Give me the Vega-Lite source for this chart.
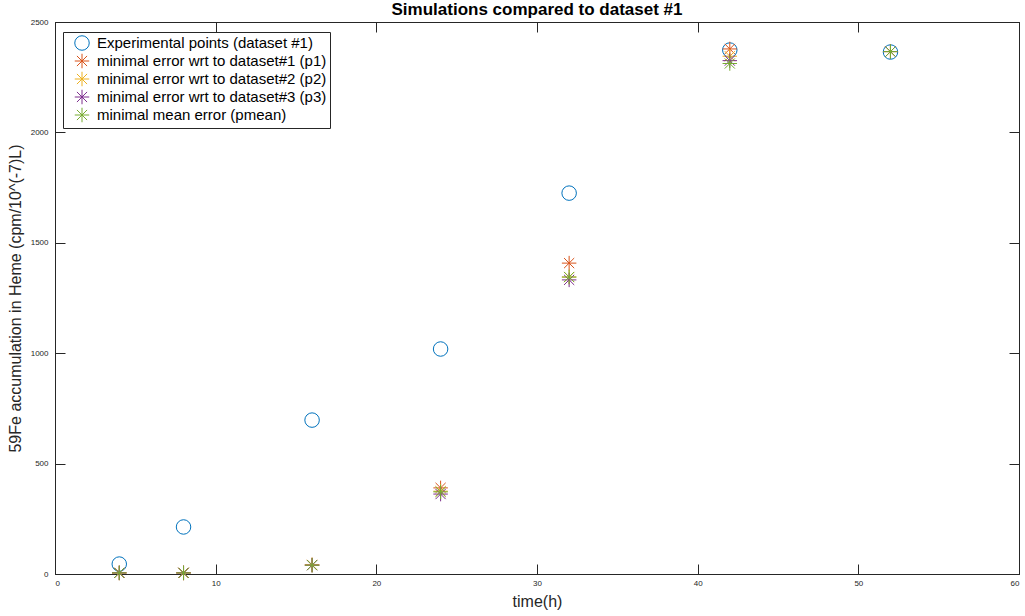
{
  "$schema": "https://vega.github.io/schema/vega-lite/v6.json",
  "autosize": "none",
  "width": 964,
  "height": 552,
  "padding": {"left": 55, "top": 22, "right": 6, "bottom": 42},
  "title": {"text": "Simulations compared to dataset #1", "fontSize": 17, "fontWeight": "bold", "font": "Liberation Sans", "color": "#000000", "offset": -1, "anchor": "middle"},
  "config": {
    "view": {"stroke": "#262626", "strokeWidth": 1},
    "font": "Liberation Sans",
    "axis": {"grid": false, "domainColor": "#262626", "tickColor": "#262626", "labelColor": "#262626", "titleColor": "#262626", "labelFontSize": 8, "titleFontSize": 16, "titleFontWeight": "normal", "tickSize": -10}
  },
  "datasets": {
    "pts": [
      {"time": 4, "value": 45, "series": "Experimental points (dataset #1)"},
      {"time": 8, "value": 213, "series": "Experimental points (dataset #1)"},
      {"time": 16, "value": 697, "series": "Experimental points (dataset #1)"},
      {"time": 24, "value": 1019, "series": "Experimental points (dataset #1)"},
      {"time": 32, "value": 1725, "series": "Experimental points (dataset #1)"},
      {"time": 42, "value": 2373, "series": "Experimental points (dataset #1)"},
      {"time": 52, "value": 2364, "series": "Experimental points (dataset #1)"},
      {"time": 4, "value": 5, "series": "minimal error wrt to dataset#1 (p1)"},
      {"time": 8, "value": 5, "series": "minimal error wrt to dataset#1 (p1)"},
      {"time": 16, "value": 41, "series": "minimal error wrt to dataset#1 (p1)"},
      {"time": 24, "value": 390, "series": "minimal error wrt to dataset#1 (p1)"},
      {"time": 32, "value": 1408, "series": "minimal error wrt to dataset#1 (p1)"},
      {"time": 42, "value": 2378, "series": "minimal error wrt to dataset#1 (p1)"},
      {"time": 52, "value": 2366, "series": "minimal error wrt to dataset#1 (p1)"},
      {"time": 4, "value": 5, "series": "minimal error wrt to dataset#2 (p2)"},
      {"time": 8, "value": 5, "series": "minimal error wrt to dataset#2 (p2)"},
      {"time": 16, "value": 41, "series": "minimal error wrt to dataset#2 (p2)"},
      {"time": 24, "value": 375, "series": "minimal error wrt to dataset#2 (p2)"},
      {"time": 32, "value": 1345, "series": "minimal error wrt to dataset#2 (p2)"},
      {"time": 42, "value": 2345, "series": "minimal error wrt to dataset#2 (p2)"},
      {"time": 52, "value": 2366, "series": "minimal error wrt to dataset#2 (p2)"},
      {"time": 4, "value": 5, "series": "minimal error wrt to dataset#3 (p3)"},
      {"time": 8, "value": 5, "series": "minimal error wrt to dataset#3 (p3)"},
      {"time": 16, "value": 40, "series": "minimal error wrt to dataset#3 (p3)"},
      {"time": 24, "value": 362, "series": "minimal error wrt to dataset#3 (p3)"},
      {"time": 32, "value": 1332, "series": "minimal error wrt to dataset#3 (p3)"},
      {"time": 42, "value": 2325, "series": "minimal error wrt to dataset#3 (p3)"},
      {"time": 52, "value": 2366, "series": "minimal error wrt to dataset#3 (p3)"},
      {"time": 4, "value": 5, "series": "minimal mean error (pmean)"},
      {"time": 8, "value": 5, "series": "minimal mean error (pmean)"},
      {"time": 16, "value": 40, "series": "minimal mean error (pmean)"},
      {"time": 24, "value": 372, "series": "minimal mean error (pmean)"},
      {"time": 32, "value": 1345, "series": "minimal mean error (pmean)"},
      {"time": 42, "value": 2312, "series": "minimal mean error (pmean)"},
      {"time": 52, "value": 2366, "series": "minimal mean error (pmean)"}
    ]
  },
  "data": {"name": "pts"},
  "resolve": {"axis": {"x": "independent", "y": "independent"}},
  "layer": [
    {
      "mark": {"type": "point", "filled": false, "strokeWidth": 1, "size": 210, "opacity": 1},
      "encoding": {
        "x": {"field": "time", "type": "quantitative", "scale": {"domain": [0, 60], "nice": false}, "axis": {"title": "time(h)", "values": [0, 10, 20, 30, 40, 50, 60], "labelPadding": 15, "titlePadding": 6}},
        "y": {"field": "value", "type": "quantitative", "scale": {"domain": [0, 2500], "nice": false}, "axis": {"title": "59Fe accumulation in Heme (cpm/10^(-7)L)", "format": "d", "values": [0, 500, 1000, 1500, 2000, 2500], "labelPadding": 17, "titlePadding": 7}},
        "color": {"field": "series", "type": "nominal", "scale": {"domain": ["Experimental points (dataset #1)", "minimal error wrt to dataset#1 (p1)", "minimal error wrt to dataset#2 (p2)", "minimal error wrt to dataset#3 (p3)", "minimal mean error (pmean)"], "range": ["#0072BD", "#D95319", "#EDB120", "#7E2F8E", "#77AC30"]},
          "legend": {"title": null, "orient": "none", "legendX": 8, "legendY": 10, "fillColor": "#ffffff", "strokeColor": "#262626", "padding": 3, "labelFontSize": 15, "labelColor": "#000000", "labelLimit": 600, "symbolSize": 210, "symbolStrokeWidth": 1, "symbolOffset": 8, "rowPadding": -2, "labelOffset": 7}},
        "shape": {"field": "series", "type": "nominal", "scale": {"domain": ["Experimental points (dataset #1)", "minimal error wrt to dataset#1 (p1)", "minimal error wrt to dataset#2 (p2)", "minimal error wrt to dataset#3 (p3)", "minimal mean error (pmean)"], "range": ["circle", "M-1,0L1,0M0,-1L0,1M-0.7,-0.7L0.7,0.7M-0.7,0.7L0.7,-0.7", "M-1,0L1,0M0,-1L0,1M-0.7,-0.7L0.7,0.7M-0.7,0.7L0.7,-0.7", "M-1,0L1,0M0,-1L0,1M-0.7,-0.7L0.7,0.7M-0.7,0.7L0.7,-0.7", "M-1,0L1,0M0,-1L0,1M-0.7,-0.7L0.7,0.7M-0.7,0.7L0.7,-0.7"]}},
        "order": {"field": "series"}
      }
    },
    {
      "mark": {"type": "point", "opacity": 0},
      "encoding": {
        "x": {"field": "time", "type": "quantitative", "scale": {"domain": [0, 60], "nice": false}, "axis": {"orient": "top", "title": null, "labels": false, "values": [0, 10, 20, 30, 40, 50, 60]}},
        "y": {"field": "value", "type": "quantitative", "scale": {"domain": [0, 2500], "nice": false}, "axis": {"orient": "right", "title": null, "labels": false, "values": [0, 500, 1000, 1500, 2000, 2500]}}
      }
    }
  ]
}
